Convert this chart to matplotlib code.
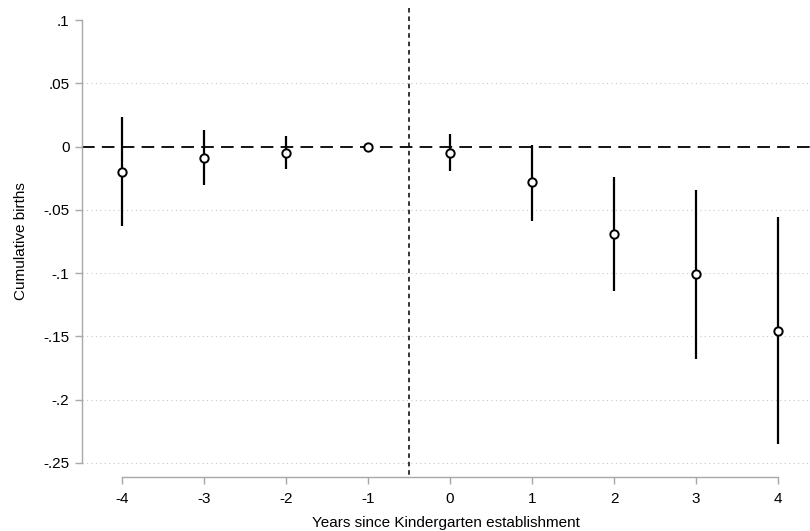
import matplotlib.pyplot as plt

plt.rcParams['font.family'] = ['Liberation Sans', 'DejaVu Sans']

years = [-4, -3, -2, -1, 0, 1, 2, 3, 4]
coef = [-0.020, -0.009, -0.005, 0.0, -0.005, -0.028, -0.069, -0.101, -0.146]
ci_low = [-0.063, -0.030, -0.018, 0.0, -0.019, -0.0585, -0.114, -0.168, -0.235]
ci_high = [0.023, 0.0127, 0.0087, 0.0, 0.010, 0.001, -0.024, -0.034, -0.056]
yticks = [0.1, 0.05, 0, -0.05, -0.1, -0.15, -0.2, -0.25]
ytick_labels = [".1", ".05", "0", "-.05", "-.1", "-.15", "-.2", "-.25"]

fig = plt.figure(figsize=(8.1, 5.31), dpi=100)
ax = fig.add_axes([82/810, 68/531, 728/810, 443/531])

# grid (dotted, light gray) except at zero
for y in yticks:
    if y not in (0, 0.1):
        ax.axhline(y, color="#c8c8c8", lw=0.8, ls=(0, (1, 3)), zorder=0, clip_on=False)

ax.axhline(0, color="black", lw=1.3, ls=(0, (7, 4)), zorder=1)
# reference line at -0.5, runs past the plot region up to the x axis
ax.plot([-0.5, -0.5], [0.1095, -0.261], color="black", lw=1.1,
        ls=(0, (3, 2.5)), zorder=1, clip_on=False)

ax.vlines(years, ci_low, ci_high, color="black", lw=1.6, zorder=2)
ax.plot(years, coef, "o", mfc="white", mec="black", mew=1.4, ms=6, zorder=3)

ax.set_xlim(-4.488, 4.39)
ax.set_ylim(-0.25, 0.1)
ax.set_xticks(years)
ax.set_xticklabels([str(x) for x in years])
ax.set_yticks(yticks)
ax.set_yticklabels(ytick_labels)

for s in ("top", "right"):
    ax.spines[s].set_visible(False)
ax.spines["left"].set_bounds(-0.25, 0.1)
ax.spines["bottom"].set_bounds(-4, 4)
ax.spines["bottom"].set_position(("outward", 10))
for s in ("left", "bottom"):
    ax.spines[s].set_color("#a8a8a8")
    ax.spines[s].set_linewidth(1.0)
ax.tick_params(axis="both", color="#a8a8a8", length=5, width=1.0, labelsize=11)
ax.tick_params(axis="y", pad=4)
ax.tick_params(axis="x", pad=6)

ax.set_xlabel("Years since Kindergarten establishment", fontsize=11, labelpad=7)
ax.set_ylabel("Cumulative births", fontsize=11, labelpad=11)

fig.savefig("out.png", dpi=100)
